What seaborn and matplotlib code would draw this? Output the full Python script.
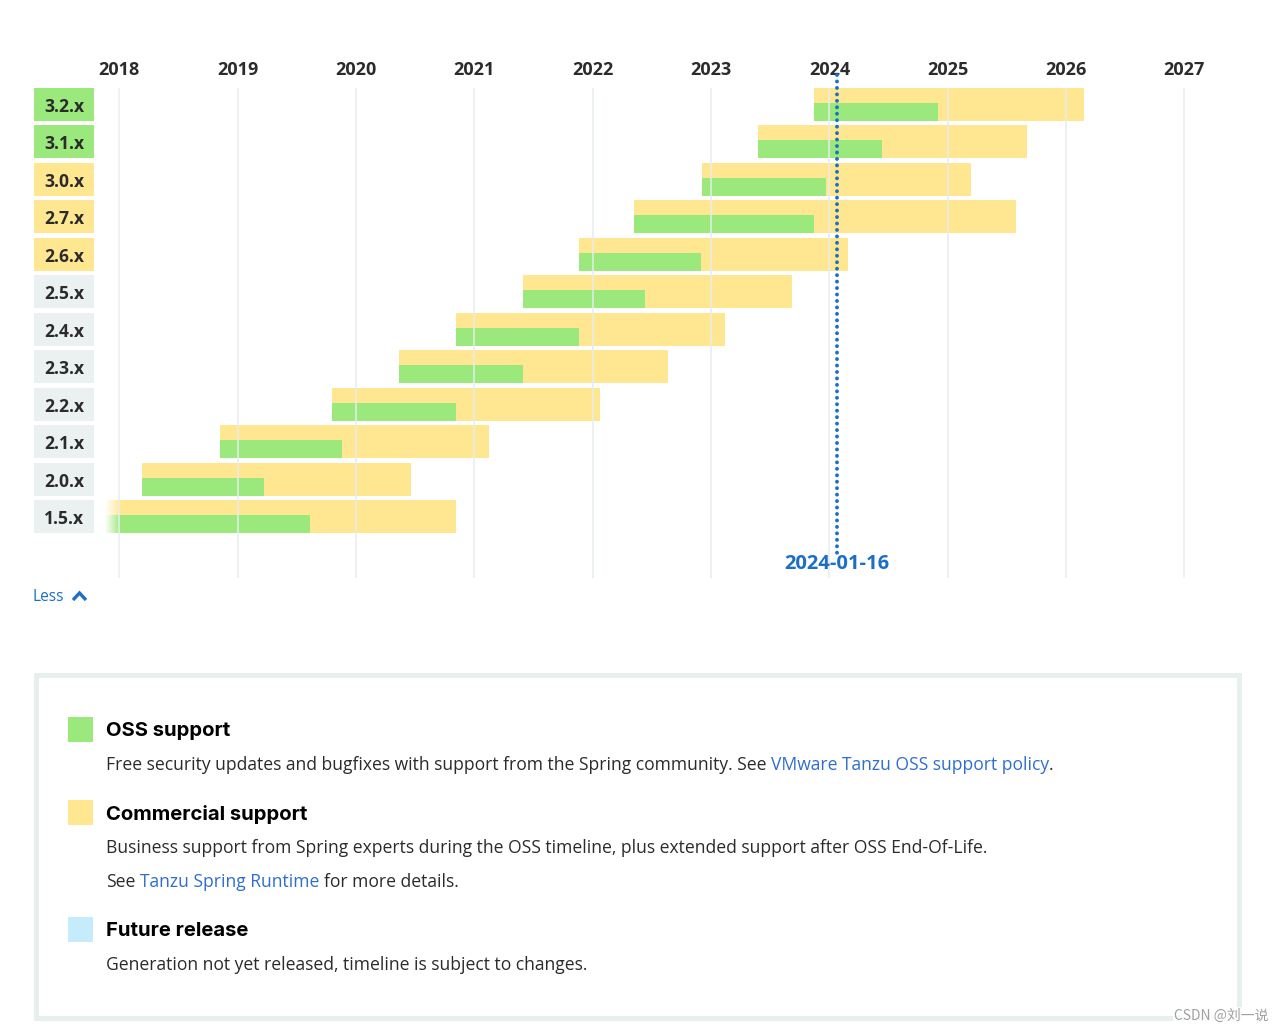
import numpy as np
import pandas as pd
import seaborn as sns
import matplotlib
matplotlib.use("Agg")
import matplotlib.pyplot as plt
import matplotlib.transforms as mtransforms
from matplotlib.patches import Rectangle
from matplotlib.lines import Line2D

# ---------------- data ----------------
versions = ["3.2.x", "3.1.x", "3.0.x", "2.7.x", "2.6.x", "2.5.x",
            "2.4.x", "2.3.x", "2.2.x", "2.1.x", "2.0.x", "1.5.x"]
release = [2023.871, 2023.398, 2022.921, 2022.353, 2021.886, 2021.411,
           2020.842, 2020.367, 2019.793, 2018.851, 2018.192, 2017.10]
oss_end = [2024.917, 2024.444, 2023.972, 2023.871, 2022.918, 2022.446,
           2021.886, 2021.411, 2020.842, 2019.885, 2019.225, 2019.608]
commercial_end = [2026.149, 2025.668, 2025.195, 2025.575, 2024.158, 2023.685,
                  2023.117, 2022.638, 2022.064, 2021.125, 2020.462, 2020.845]
label_status = ["oss", "oss", "commercial", "commercial", "commercial", "eol",
                "eol", "eol", "eol", "eol", "eol", "eol"]
years = [2018, 2019, 2020, 2021, 2022, 2023, 2024, 2025, 2026, 2027]
today = 2024.062
today_label = "2024-01-16"

legend_titles = ["OSS support", "Commercial support", "Future release"]

df = pd.DataFrame({"version": versions, "release": release,
                   "oss_end": oss_end, "commercial_end": commercial_end,
                   "status": label_status})

# ---------------- style ----------------
GREEN = "#9be87c"
YELLOW = "#ffe792"
FUTURE = "#c6ebfb"
GRAYBOX = "#ebf1f1"
GRID = "#e6eded"
BLUE = "#1b6fc6"
LINK = "#2f6ecf"
TEXT = "#2b2b2b"
status_color = {"oss": GREEN, "commercial": YELLOW, "eol": GRAYBOX}

sns.set_theme(style="white")
plt.rcParams["font.family"] = ["Open Sans", "DejaVu Sans"]

W, H = 1285, 1034
fig = plt.figure(figsize=(W / 100, H / 100), dpi=100)
fig.patch.set_facecolor("white")


def fx(px):
    return px / W


def fy(py):
    return 1 - py / H


# ---------------- main timeline axes ----------------
ax_left, ax_right, ax_top, ax_bottom = 105, 1240, 88, 578
ax = fig.add_axes([fx(ax_left), fy(ax_bottom), (ax_right - ax_left) / W,
                   (ax_bottom - ax_top) / H])
ppy = 118.35  # pixels per year
x0 = 2018 - (119.3 - ax_left) / ppy
x1 = 2018 + (ax_right - 119.3) / ppy
pitch = 37.5
yl_top = -(104.3 - ax_top) / pitch
yl_bot = (ax_bottom - 104.3) / pitch

ypos = np.arange(len(df))
ax.barh(ypos, df["commercial_end"] - df["release"], left=df["release"],
        height=0.872, color=YELLOW, zorder=1, linewidth=0)
ax.barh(ypos + 0.196, df["oss_end"] - df["release"], left=df["release"],
        height=0.48, color=GREEN, zorder=2, linewidth=0)

for yr in years:
    ax.axvline(yr, color=GRID, lw=1.3, zorder=3, alpha=0.85)

# fade-out on the left edge (bars that began before the window)
grad = np.ones((1, 64, 4))
grad[0, :, 3] = np.linspace(1, 0, 64)
ax.imshow(grad, extent=[x0, 2018.01, yl_bot, yl_top], aspect="auto",
          zorder=4, interpolation="bilinear")

# today marker
ax.plot([today, today], [(75 - 104.3) / pitch, (553 - 104.3) / pitch],
        color=BLUE, lw=2.8, ls=(0, (0.01, 1.65)), dash_capstyle="round",
        clip_on=False, zorder=6)
ax.text(today, (564 - 104.3) / pitch, today_label, ha="center", va="center",
        color=BLUE, fontsize=14.5, fontweight="bold", clip_on=False, zorder=7)

ax.set_xticks(years)
ax.set_xticklabels([str(y) for y in years], fontsize=13, fontweight="bold",
                   color=TEXT)
ax.xaxis.tick_top()
ax.tick_params(axis="x", length=0, pad=6.5)
ax.set_yticks([])
for s in ax.spines.values():
    s.set_visible(False)
ax.grid(False)

# version labels
trans = mtransforms.blended_transform_factory(fig.transFigure, ax.transData)
for i, row in df.iterrows():
    ax.add_patch(Rectangle((fx(34), i - 0.436), 60 / W, 0.872,
                           transform=trans, facecolor=status_color[row["status"]],
                           edgecolor="none", clip_on=False, zorder=5))
    ax.text(fx(64.5), i + 0.06, row["version"], transform=trans, ha="center",
            va="center", fontsize=12.6, fontweight="bold", color=TEXT,
            clip_on=False, zorder=6)

ax.set_xlim(x0, x1)
ax.set_ylim(yl_bot, yl_top)

# "Less" link
fig.text(fx(33), fy(597), "Less", ha="left", va="center", fontsize=11.2,
         color=BLUE)
fig.add_artist(Line2D([fx(73), fx(79.5), fx(86)], [fy(600), fy(593), fy(600)],
                      color=BLUE, lw=2.4, solid_capstyle="butt",
                      solid_joinstyle="miter", transform=fig.transFigure))

# ---------------- legend box ----------------
fig.add_artist(Rectangle((fx(35.5), fy(1017.5)), (1238.5 - 35.5) / W,
                         (1017.5 - 674.5) / H, transform=fig.transFigure,
                         facecolor="none", edgecolor="#e8f0ee", lw=3.6))

sq_colors = [GREEN, YELLOW, FUTURE]
sq_tops = [717, 800, 917]
for c, t, title in zip(sq_colors, sq_tops, legend_titles):
    fig.add_artist(Rectangle((fx(68), fy(t + 25)), 25 / W, 25 / H,
                             transform=fig.transFigure, facecolor=c,
                             edgecolor="none"))
    fig.text(fx(106), fy(t + 14), title, ha="left", va="center",
             fontsize=14.6, fontweight="bold", color="#000000",
             family=["Inter", "DejaVu Sans"])

renderer = fig.canvas.get_renderer()


def width_px(s, **kw):
    t = fig.text(0, 0, s, **kw)
    w = t.get_window_extent(renderer).width
    t.remove()
    return w


body_kw = dict(fontsize=12.62, family=["Open Sans", "DejaVu Sans"])
space_w = width_px("x x", **body_kw) - width_px("xx", **body_kw)


def rich_line(px, py, pieces):
    x = px
    for s, col in pieces:
        lead = len(s) - len(s.lstrip(" "))
        trail = len(s) - len(s.rstrip(" "))
        core = s.strip(" ")
        x += lead * space_w
        if core:
            t = fig.text(fx(x), fy(py), core, ha="left", va="center",
                         color=col, **body_kw)
            x += t.get_window_extent(renderer).width
        x += trail * space_w


rich_line(106, 765, [("Free security updates and bugfixes with support from "
                      "the Spring community. See ", TEXT),
                     ("VMware Tanzu OSS support policy", LINK), (".", TEXT)])
rich_line(106, 848, [("Business support from Spring experts during the OSS "
                      "timeline, plus extended support after OSS End-Of-Life.",
                      TEXT)])
rich_line(106, 882, [("See ", TEXT), ("Tanzu Spring Runtime", LINK),
                     (" for more details.", TEXT)])
rich_line(106, 965, [("Generation not yet released, timeline is subject to "
                      "changes.", TEXT)])

# watermark
fig.text(fx(1269), fy(1016), "CSDN @刘一说", ha="right", va="center",
         fontsize=10, color="#a0a0a0",
         family=["Noto Sans CJK SC", "DejaVu Sans"],
         bbox=dict(facecolor="white", edgecolor="none", alpha=0.8, pad=1))

fig.savefig("out.png", dpi=100, facecolor="white")
